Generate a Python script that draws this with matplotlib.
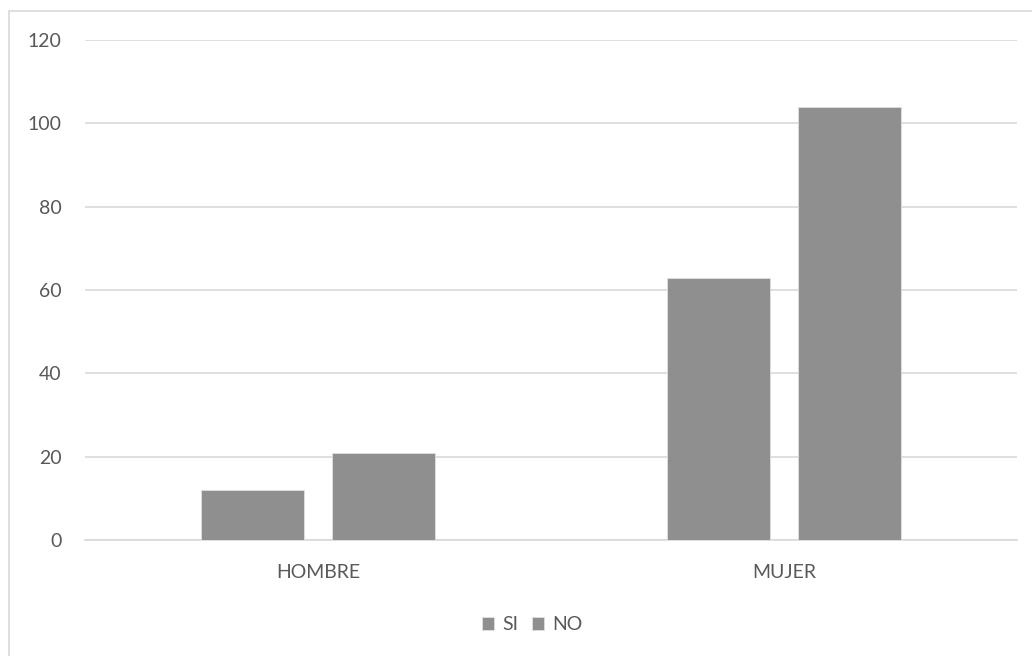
import matplotlib.pyplot as plt
import numpy as np
from matplotlib.patches import Rectangle

categories = ['HOMBRE', 'MUJER']
si_values = [12, 63]
no_values = [21, 104]
series_names = ['SI', 'NO']
y_ticks = [0, 20, 40, 60, 80, 100, 120]

plt.rcParams['font.family'] = ['Lato', 'DejaVu Sans']
text_color = '#595959'
bar_color = '#8f8f8f'
grid_color = '#d9d9d9'

fig = plt.figure(figsize=(10.32, 6.56), dpi=100)
ax = fig.add_axes([85 / 1032, 1 - 540 / 656, 932 / 1032, 500 / 656])

# outer chart frame (cropped at right/bottom in the original)
fig.patches.append(Rectangle((9 / 1032, -0.1), 1.2, 1 - 11 / 656 + 0.1,
                             transform=fig.transFigure, fill=False,
                             edgecolor=grid_color, linewidth=1.2))

x = np.arange(len(categories))
width = 0.221
offset = 0.1416
ax.bar(x - offset, si_values, width, color=bar_color, edgecolor='#e0e0e0',
       linewidth=0.6, label=series_names[0], zorder=3)
ax.bar(x + offset, no_values, width, color=bar_color, edgecolor='#e0e0e0',
       linewidth=0.6, label=series_names[1], zorder=3)

ax.set_xlim(-0.5, 1.5)
ax.set_ylim(0, 120)
ax.set_yticks(y_ticks)
ax.set_xticks(x)
ax.set_xticklabels(categories)
ax.yaxis.grid(True, color=grid_color, linewidth=1.2, zorder=0)
ax.set_axisbelow(True)
for s in ['top', 'right', 'left']:
    ax.spines[s].set_visible(False)
ax.spines['bottom'].set_color(grid_color)
ax.spines['bottom'].set_linewidth(1.2)
ax.tick_params(axis='both', length=0, labelsize=14, labelcolor=text_color)
ax.tick_params(axis='y', pad=17)
ax.tick_params(axis='x', pad=17)

ax.legend(loc='center', bbox_to_anchor=(532 / 1032, 1 - 625 / 656),
          bbox_transform=fig.transFigure, ncol=2, frameon=False,
          fontsize=14, labelcolor=text_color, handlelength=0.65,
          handleheight=0.65, handletextpad=0.4, columnspacing=0.7)

fig.savefig('out.png', dpi=100)
